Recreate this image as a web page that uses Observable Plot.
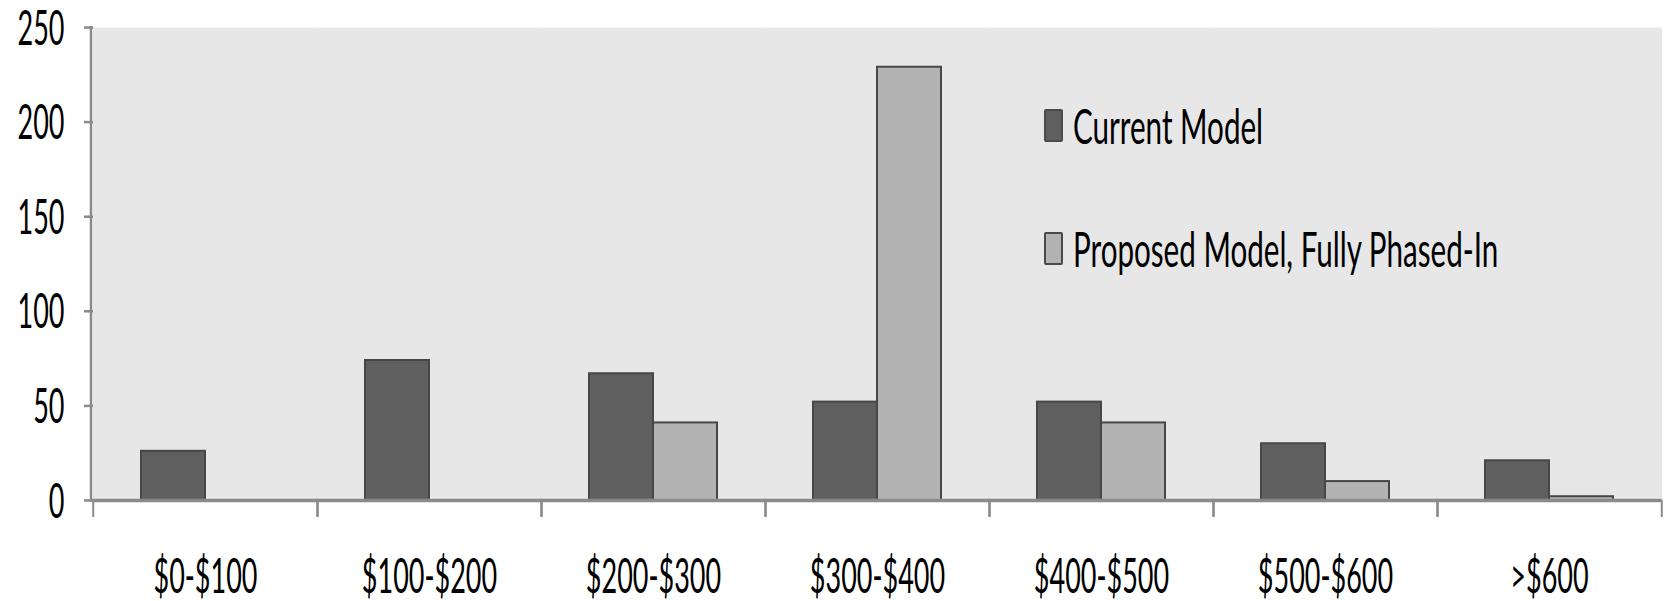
<!DOCTYPE html>
<html>
<head>
<meta charset="utf-8">
<script src="https://cdn.jsdelivr.net/npm/d3@7"></script>
<script src="https://cdn.jsdelivr.net/npm/@observablehq/plot@0.6"></script>
<style>
  html, body { margin: 0; padding: 0; background: #ffffff; }
  #wrap { position: relative; width: 1671px; height: 601px; font-family: Lato, "Open Sans", sans-serif; }
  #legend { position: absolute; left: 1044px; top: 109px; }
  .item { display: flex; align-items: center; height: 33px; margin-bottom: 90px; }
  .swatch { width: 19px; height: 33px; box-sizing: border-box; border: 2px solid #4a4a4a; border-radius: 2px; flex: none; }
  .label { display: inline-block; margin-left: 10px; font-size: 29.6px; color: #000; white-space: nowrap; transform-origin: 0 50%; line-height: 1; }
</style>
</head>
<body>
<div id="wrap"></div>
<script>
// Monthly premium brackets and the number of plans in each
const categories = ["$0-$100", "$100-$200", "$200-$300", "$300-$400", "$400-$500", "$500-$600", ">$600"];
const series = ["Current Model", "Proposed Model, Fully Phased-In"];
const currentValues = [26, 74, 67, 52, 52, 30, 21];
const proposedValues = [0, 0, 41, 229, 41, 10, 2];
const yTicks = [0, 50, 100, 150, 200, 250];
const seriesColors = ["#5f5f5f", "#b3b3b3"];

const data = categories.flatMap((category, i) => [
  {category, series: series[0], value: currentValues[i]},
  {category, series: series[1], value: proposedValues[i]}
]);

const width = 1671, height = 601;
const marginLeft = 91, marginRight = 8, marginTop = 27, marginBottom = 101;
const band = (width - marginLeft - marginRight) / categories.length;
const axisGray = "#8a8a8a";

const chart = Plot.plot({
  width, height, marginLeft, marginRight, marginTop, marginBottom,
  style: {fontFamily: "Lato, 'Open Sans', sans-serif", fontSize: "27px", color: "#000", background: "#fff"},
  fx: {domain: categories, padding: 0, label: null, axis: null},
  x: {domain: series, paddingInner: 0, paddingOuter: 0.728, axis: null},
  y: {domain: [0, 250], label: null, axis: null},
  color: {domain: series, range: seriesColors},
  marks: [
    // plot-area background, slightly overlapped so neighbouring facets leave no seam
    Plot.frame({fill: "#e7e7e7", stroke: null, insetLeft: -0.6, insetRight: -0.6}),
    Plot.barY(data, {fx: "category", x: "series", y: "value", fill: "series", stroke: "#474747", strokeWidth: 2}),
    Plot.ruleY([0], {stroke: axisGray, strokeWidth: 3.5, insetLeft: -0.6, insetRight: -0.6}),
    Plot.axisY({ticks: yTicks, tickSize: 9, tickPadding: 20, stroke: axisGray, strokeWidth: 2.5, label: null}),
    Plot.axisFx({anchor: "bottom", tickSize: 0, tickPadding: 75, label: null}),
    Plot.axisFx({anchor: "bottom", text: null, tickSize: 17, dx: -band / 2, stroke: axisGray, strokeWidth: 2, label: null}),
    Plot.axisFx({anchor: "bottom", text: null, tickSize: 17, dx: band / 2, stroke: axisGray, strokeWidth: 2, label: null})
  ]
});

// vertical axis line along the left edge of the plotting area
const yScale = chart.scale("y");
const svgNS = "http://www.w3.org/2000/svg";
const axisLine = document.createElementNS(svgNS, "line");
axisLine.setAttribute("x1", marginLeft);
axisLine.setAttribute("x2", marginLeft);
axisLine.setAttribute("y1", yScale.apply(yTicks[yTicks.length - 1]) - 1);
axisLine.setAttribute("y2", yScale.apply(0));
axisLine.setAttribute("stroke", axisGray);
axisLine.setAttribute("stroke-width", 2.5);
chart.appendChild(axisLine);

// Tall, narrow lettering: stretch the tick labels vertically about their anchors
const capHeight = 34;
const stretch = size => capHeight / (size * 0.7165);
chart.querySelectorAll('g[aria-label="y-axis tick label"] text, g[aria-label="fx-axis tick label"] text').forEach(t => {
  t.setAttribute("y", "0.36em");
  t.setAttribute("transform", (t.getAttribute("transform") || "") + ` scale(1,${stretch(27)})`);
});

const wrap = document.getElementById("wrap");
wrap.appendChild(chart);

// Legend drawn inside the plotting area
const legend = document.createElement("div");
legend.id = "legend";
series.forEach((name, i) => {
  const item = document.createElement("div");
  item.className = "item";
  const sw = document.createElement("div");
  sw.className = "swatch";
  sw.style.background = seriesColors[i];
  const lab = document.createElement("span");
  lab.className = "label";
  lab.textContent = name;
  lab.style.transform = `scaleY(${(35 / (29.6 * 0.7165)).toFixed(3)})`;
  item.appendChild(sw);
  item.appendChild(lab);
  legend.appendChild(item);
});
wrap.appendChild(legend);
</script>
</body>
</html>
